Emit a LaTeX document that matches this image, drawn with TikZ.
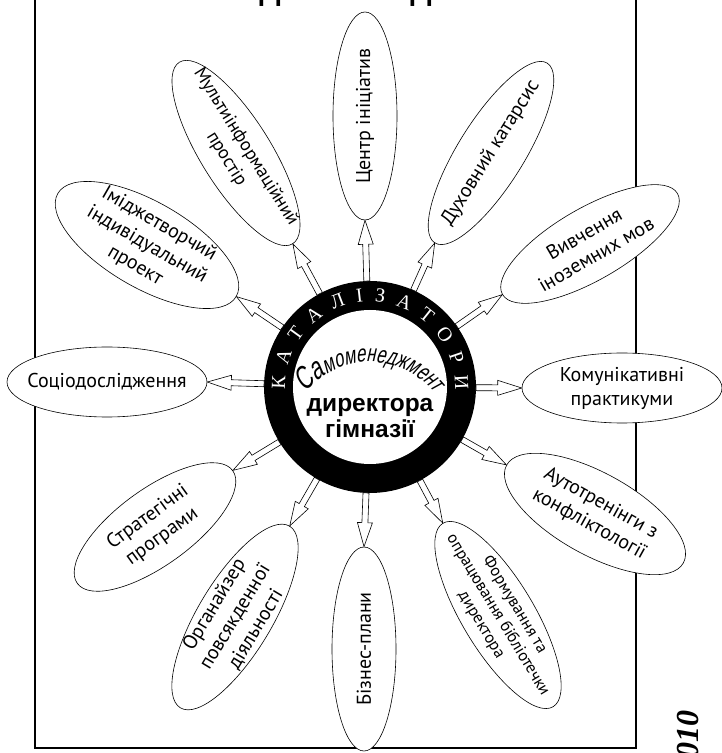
\documentclass[tikz,border=0pt]{standalone}
\usepackage{fontspec}
\setmainfont{PT Sans}
\newfontfamily\censans{Liberation Sans}
\newfontfamily\serfont{Liberation Serif}
\newfontfamily\samofont[FakeStretch=0.7, FakeSlant=0.22]{Liberation Sans}
\usetikzlibrary{shapes.geometric,calc,decorations.text}
\tikzset{
  el/.style={draw, ellipse, fill=white, line width=0.6pt, inner sep=0pt},
  tx/.style={align=center, inner sep=0pt, font=\fontsize{20}{24}\selectfont},
  txm/.style={align=center, inner sep=0pt, font=\fontsize{18.5}{23}\selectfont},
  txs/.style={align=center, inner sep=0pt, font=\fontsize{16.5}{19.5}\selectfont},
  barr/.style={draw, fill=white, line width=0.6pt, line join=miter},
  frame/.style={line width=1.3pt},
  censtyle/.style={inner sep=0pt, anchor=base, font=\censans\bfseries\fontsize{24.5}{28}\selectfont},
}
\newcommand\conn[2]{%
  \path let \p1=($(#1)!106pt!(#2)$), \p2=(#2),
    \n1={atan2(\y2-\y1,\x2-\x1)}, \n2={veclen(\x2-\x1,\y2-\y1)} in
    [barr] ($(\p1)+(\n1+90:3)$)
      -- ($(\p1)+(\n1:\n2-24)+(\n1+90:3)$)
      -- ($(\p1)+(\n1:\n2-24)+(\n1+90:7.5)$)
      -- (\p2)
      -- ($(\p1)+(\n1:\n2-24)+(\n1-90:7.5)$)
      -- ($(\p1)+(\n1:\n2-24)+(\n1-90:3)$)
      -- ($(\p1)+(\n1-90:3)$) -- cycle;
}
\begin{document}
\begin{tikzpicture}[x=1pt,y=1pt]
\useasboundingbox (0,0) rectangle (721,753);
% frame
\draw[frame] (35,770) -- (35,5) -- (636,5) -- (636,770);
% cut-off title and year
\node[inner sep=0pt, anchor=base, font=\censans\bfseries\fontsize{30}{30}\selectfont] (t1) at (270,752) {Д};
\node[inner sep=0pt, anchor=base, font=\censans\bfseries\fontsize{30}{30}\selectfont] (t2) at (421,752) {Д};
\node[inner sep=0pt, rotate=90, anchor=base east, font=\serfont\bfseries\itshape\fontsize{32}{32}\selectfont] (yr) at (698,43) {2010};
% ring
\node[circle, fill=black, minimum size=212pt, inner sep=0pt] (ring) at (370,366) {};
\node[circle, fill=white, minimum size=154pt, inner sep=0pt] (core) at (ring) {};
\path[decorate, decoration={text along path, text align={fit to path}, text color=white,
  text={|\serfont\fontsize{20}{20}\selectfont|КАТАЛІЗАТОРИ}}]
  (370,366) ++(182:85) arc[start angle=182, end angle=-2, radius=85];
\path[decorate, decoration={text along path, text align=center,
  text={|\samofont\fontsize{31}{31}\selectfont|Са|\samofont\fontsize{24}{24}\selectfont|моменеджмент}}]
  (370,309) ++(150:82) arc[start angle=150, end angle=30, radius=82];
\node[censtyle] (dir) at (370,341) {директора};
\node[censtyle] (gym) at (370,315) {гімназії};
% ellipses
\node[el, rotate=90, minimum width=208pt, minimum height=64pt] (cen) at (365,637) {};
\node[tx, rotate=90] at (cen) {Центр ініціатив};
\node[el, rotate=-58, minimum width=214pt, minimum height=70pt] (mul) at (236,600) {};
\node[txm, rotate=-58] at (mul) {Мультиінформаційний\\простір};
\node[el, rotate=-30, minimum width=206pt, minimum height=86pt] (imi) at (147,508) {};
\node[tx, rotate=-30] at (imi) {Іміджетворчий\\індивідуальний\\проект};
\node[el, minimum width=200pt, minimum height=70pt] (soc) at (107,371) {};
\node[tx] at (soc) {Соціодослідження};
\node[el, rotate=36, minimum width=192pt, minimum height=76pt] (str) at (155,226) {};
\node[tx, rotate=36] at (str) {Стратегічні\\програми};
\node[el, rotate=59, minimum width=212pt, minimum height=74pt] (org) at (235,136) {};
\node[tx, rotate=59] at (org) {Органайзер\\повсякденної\\діяльності};
\node[el, rotate=90, minimum width=204pt, minimum height=64pt] (biz) at (364,104) {};
\node[tx, rotate=90] at (biz) {Бізнес-плани};
\node[el, rotate=-59, minimum width=214pt, minimum height=72pt] (for) at (498,138) {};
\node[txs, rotate=-59] at (for) {Формування та\\опрацювання бібліотечки\\директора};
\node[el, rotate=-29, minimum width=202pt, minimum height=82pt] (aut) at (595,239) {};
\node[tx, rotate=-29] at (aut) {Аутотренінги з\\конфліктології};
\node[el, minimum width=200pt, minimum height=70pt] (kom) at (622,365) {};
\node[tx] at (kom) {Комунікативні\\практикуми};
\node[el, rotate=30, minimum width=202pt, minimum height=72pt] (viv) at (590,509) {};
\node[tx, rotate=30] at (viv) {Вивчення\\іноземних мов};
\node[el, rotate=58, minimum width=212pt, minimum height=66pt] (duh) at (491,600) {};
\node[tx, rotate=58] at (duh) {Духовний катарсис};
% connectors
\conn{ring}{cen.west}
\conn{ring}{mul.east}
\conn{ring}{imi.east}
\conn{ring}{soc.east}
\conn{ring}{str.east}
\conn{ring}{org.east}
\conn{ring}{biz.east}
\conn{ring}{for.west}
\conn{ring}{aut.west}
\conn{ring}{kom.west}
\conn{ring}{viv.west}
\conn{ring}{duh.west}
\end{tikzpicture}
\end{document}
